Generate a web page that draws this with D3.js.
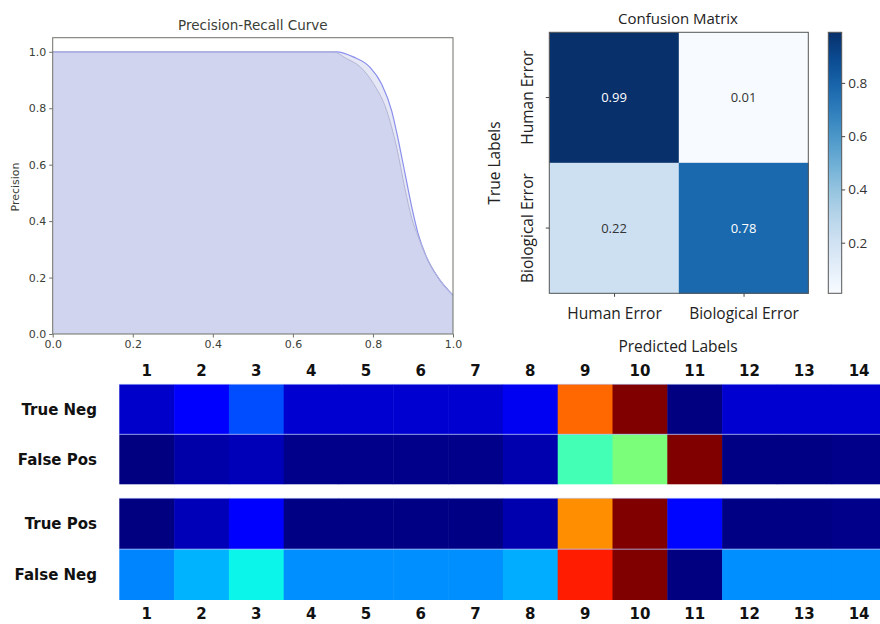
<!DOCTYPE html>
<html>
<head>
<meta charset="utf-8">
<script src="https://cdn.jsdelivr.net/npm/d3@7"></script>
<style>
  body { margin: 0; background: #fff; }
  svg { display: block; }
</style>
</head>
<body>
<svg id="chart" width="880" height="624"></svg>
<script>
// precision-recall, two runs
const recallA    = [0, 0.35, 0.709, 0.751, 0.793, 0.822, 0.847, 0.863, 0.880, 0.897, 0.913, 0.934, 0.963, 1.0]
const precisionA = [1, 1, 1, 0.982, 0.945, 0.885, 0.79, 0.69, 0.57, 0.45, 0.355, 0.272, 0.2, 0.138]
const recallB    = [0, 0.35, 0.70, 0.734, 0.768, 0.801, 0.834, 0.859, 0.880, 0.897, 0.913, 0.934, 0.963, 1.0]
const precisionB = [1, 1, 1, 0.976, 0.947, 0.888, 0.793, 0.663, 0.515, 0.41, 0.345, 0.272, 0.2, 0.138]
const prTicks = [0, 0.2, 0.4, 0.6, 0.8, 1.0]

// confusion matrix
const cmLabels = ["Human Error", "Biological Error"]
const cmRow0 = [0.99, 0.01]
const cmRow1 = [0.22, 0.78]
const cbTicks = [0.2, 0.4, 0.6, 0.8]

// per-class heatmap (jet colour scale, 0..1)
const hmColumns = ["1","2","3","4","5","6","7","8","9","10","11","12","13","14"]
const trueNeg  = [0.065, 0.115, 0.20, 0.07, 0.07, 0.07, 0.07, 0.10, 0.80, 1.0, 0.0, 0.07, 0.07, 0.07]
const falsePos = [0.0, 0.035, 0.05, 0.01, 0.01, 0.01, 0.01, 0.04, 0.43, 0.50, 1.0, 0.005, 0.005, 0.01]
const truePos  = [0.0, 0.05, 0.11, 0.005, 0.005, 0.005, 0.005, 0.04, 0.76, 1.0, 0.13, 0.005, 0.005, 0.01]
const falseNeg = [0.255, 0.30, 0.365, 0.265, 0.265, 0.265, 0.265, 0.295, 0.88, 1.0, 0.0, 0.265, 0.265, 0.265]
const topRows = ["True Neg", "False Pos"]
const bottomRows = ["True Pos", "False Neg"]

const svg = d3.select("#chart")
svg.append("rect").attr("width", 880).attr("height", 624).attr("fill", "#fff")

const mplFont = "DejaVu Sans, sans-serif"
const txt = "#3a4036"
const spine = "#6e7268"

//----- Precision-Recall curve -----
const px = d3.scaleLinear().domain([0, 1]).range([52.7, 453])
const py = d3.scaleLinear().domain([0, 1.05]).range([334, 37.7])

const pr = svg.append("g")

const area = d3.area()
    .curve(d3.curveMonotoneX)
    .x(d => px(d[0]))
    .y0(py(0))
    .y1(d => py(d[1]))
const line = d3.line()
    .curve(d3.curveMonotoneX)
    .x(d => px(d[0]))
    .y(d => py(d[1]))

const runA = recallA.map((r, i) => [r, precisionA[i]])
const runB = recallB.map((r, i) => [r, precisionB[i]])

pr.append("path").datum(runA).attr("d", area)
    .attr("fill", "#3a4cbb").attr("fill-opacity", 0.13)
pr.append("path").datum(runB).attr("d", area)
    .attr("fill", "#3a4cbb").attr("fill-opacity", 0.13)
pr.append("path").datum(runA).attr("d", line)
    .attr("fill", "none").attr("stroke", "#8a90ec").attr("stroke-width", 1.2)
pr.append("path").datum(runB).attr("d", line)
    .attr("fill", "none").attr("stroke", "#b4b6d6").attr("stroke-width", 1)

pr.append("rect")
    .attr("x", px(0)).attr("y", py(1.05))
    .attr("width", px(1) - px(0)).attr("height", py(0) - py(1.05))
    .attr("fill", "none").attr("stroke", spine).attr("stroke-width", 1)

pr.append("g")
    .attr("transform", `translate(0,${py(0)})`)
    .call(d3.axisBottom(px).tickValues(prTicks).tickFormat(d3.format(".1f")).tickSize(3.5).tickPadding(3))
    .call(g => g.select(".domain").remove())
    .call(g => g.selectAll("line").attr("stroke", spine))
    .call(g => g.selectAll("text").attr("fill", txt).attr("font-family", mplFont).attr("font-size", 11))

pr.append("g")
    .attr("transform", `translate(${px(0)},0)`)
    .call(d3.axisLeft(py).tickValues(prTicks).tickFormat(d3.format(".1f")).tickSize(3.5).tickPadding(3))
    .call(g => g.select(".domain").remove())
    .call(g => g.selectAll("line").attr("stroke", spine))
    .call(g => g.selectAll("text").attr("fill", txt).attr("font-family", mplFont).attr("font-size", 11))

pr.append("text")
    .attr("x", (px(0) + px(1)) / 2).attr("y", 29.5)
    .attr("text-anchor", "middle").attr("font-family", mplFont).attr("font-size", 13.5)
    .attr("fill", txt).text("Precision-Recall Curve")

pr.append("text")
    .attr("transform", `translate(19,187) rotate(-90)`)
    .attr("text-anchor", "middle").attr("font-family", mplFont).attr("font-size", 11)
    .attr("fill", txt).text("Precision")

//----- Confusion matrix -----
const cm = svg.append("g")
const cmFont = "Open Sans, DejaVu Sans, sans-serif"
const cmValues = [cmRow0, cmRow1]
const cx = d3.scaleBand().domain([0, 1]).range([549.3, 808.3])
const cy = d3.scaleBand().domain([0, 1]).range([32.3, 293.3])
const blues = d3.scaleSequential(d3.interpolateBlues).domain([0.01, 0.99])

cmValues.forEach((row, r) => {
  row.forEach((v, c) => {
    cm.append("rect")
        .attr("x", cx(c)).attr("y", cy(r))
        .attr("width", cx.bandwidth() + 0.5).attr("height", cy.bandwidth() + 0.5)
        .attr("fill", blues(v))
    cm.append("text")
        .attr("x", cx(c) + cx.bandwidth() / 2).attr("y", cy(r) + cy.bandwidth() / 2)
        .attr("dy", "0.35em").attr("text-anchor", "middle")
        .attr("font-family", cmFont).attr("font-size", 13)
        .attr("fill", v > 0.5 ? "#fff" : "#333").text(v.toFixed(2))
  })
})
cm.append("rect")
    .attr("x", 549.3).attr("y", 32.3).attr("width", 259).attr("height", 261)
    .attr("fill", "none").attr("stroke", "#555").attr("stroke-width", 1)

cm.append("g")
    .attr("transform", "translate(0,293.3)")
    .call(d3.axisBottom(d3.scaleOrdinal().domain(cmLabels).range([cx(0) + cx.bandwidth() / 2, cx(1) + cx.bandwidth() / 2]))
        .tickSize(3.5).tickPadding(8))
    .call(g => g.select(".domain").remove())
    .call(g => g.selectAll("line").attr("stroke", "#444"))
    .call(g => g.selectAll("text").attr("fill", "#222").attr("font-family", cmFont).attr("font-size", 15.5).attr("dy", "0.9em"))

const yPos = [cy(0) + cy.bandwidth() / 2, cy(1) + cy.bandwidth() / 2]
cmLabels.forEach((lab, i) => {
  cm.append("line")
      .attr("x1", 549.3).attr("x2", 545.8).attr("y1", yPos[i]).attr("y2", yPos[i])
      .attr("stroke", "#444")
  cm.append("text")
      .attr("transform", `translate(533,${yPos[i]}) rotate(-90)`)
      .attr("text-anchor", "middle").attr("font-family", cmFont).attr("font-size", 15.5)
      .attr("fill", "#222").text(lab)
})

cm.append("text")
    .attr("x", 678).attr("y", 24).attr("text-anchor", "middle")
    .attr("font-family", cmFont).attr("font-size", 15).attr("fill", "#222").text("Confusion Matrix")
cm.append("text")
    .attr("x", 678).attr("y", 352).attr("text-anchor", "middle")
    .attr("font-family", cmFont).attr("font-size", 15.5).attr("fill", "#222").text("Predicted Labels")
cm.append("text")
    .attr("transform", "translate(500,163) rotate(-90)")
    .attr("text-anchor", "middle").attr("font-family", cmFont).attr("font-size", 15.5)
    .attr("fill", "#222").text("True Labels")

// colour bar
const cbScale = d3.scaleLinear().domain([0.01, 0.99]).range([293.3, 32.3])
const defs = svg.append("defs")
const grad = defs.append("linearGradient").attr("id", "cbgrad")
    .attr("x1", 0).attr("y1", 1).attr("x2", 0).attr("y2", 0)
d3.range(0, 1.001, 0.1).forEach(t => {
  grad.append("stop").attr("offset", t).attr("stop-color", blues(0.01 + t * 0.98))
})
cm.append("rect")
    .attr("x", 828.3).attr("y", 32.3).attr("width", 13.4).attr("height", 261)
    .attr("fill", "url(#cbgrad)").attr("stroke", "#555").attr("stroke-width", 1)
cm.append("g")
    .attr("transform", "translate(841.7,0)")
    .call(d3.axisRight(cbScale).tickValues(cbTicks).tickFormat(d3.format(".1f")).tickSize(3.5).tickPadding(3))
    .call(g => g.select(".domain").remove())
    .call(g => g.selectAll("line").attr("stroke", "#444"))
    .call(g => g.selectAll("text").attr("fill", "#333").attr("font-family", cmFont).attr("font-size", 13.5))

//----- per-class heatmap -----
const jetR = d3.scaleLinear().domain([0, 0.35, 0.66, 0.89, 1]).range([0, 0, 1, 1, 0.5]).clamp(true)
const jetG = d3.scaleLinear().domain([0, 0.125, 0.375, 0.64, 0.91, 1]).range([0, 0, 1, 1, 0, 0]).clamp(true)
const jetB = d3.scaleLinear().domain([0, 0.11, 0.34, 0.65, 1]).range([0.5, 1, 1, 0, 0]).clamp(true)
const jet = v => d3.rgb(jetR(v) * 255, jetG(v) * 255, jetB(v) * 255)

const hx = d3.scaleBand().domain(hmColumns).range([119.3, 119.3 + 14 * 54.8])
const hmFont = "DejaVu Sans, sans-serif"

function block(rows, series, top, bottom) {
  const hy = d3.scaleBand().domain(rows).range([top, bottom])
  const g = svg.append("g")
  rows.forEach((row, r) => {
    series[r].forEach((v, c) => {
      g.append("rect")
          .attr("x", hx(hmColumns[c])).attr("y", hy(row))
          .attr("width", hx.bandwidth() + 0.5).attr("height", hy.bandwidth())
          .attr("fill", jet(v))
    })
    g.append("text")
        .attr("x", 97).attr("y", hy(row) + hy.bandwidth() / 2).attr("dy", "0.36em")
        .attr("text-anchor", "end").attr("font-family", hmFont).attr("font-weight", "bold")
        .attr("font-size", 15).attr("fill", "#111").text(row)
  })
  // thin light rule between the two rows and on top
  g.append("line")
      .attr("x1", 119.3).attr("x2", 880).attr("y1", hy(rows[1])).attr("y2", hy(rows[1]))
      .attr("stroke", "#a9bbff").attr("stroke-width", 1).attr("stroke-opacity", 0.75)
  g.append("line")
      .attr("x1", 119.3).attr("x2", 880).attr("y1", top).attr("y2", top)
      .attr("stroke", "#a9bbff").attr("stroke-width", 1).attr("stroke-opacity", 0.5)
}

block(topRows, [trueNeg, falsePos], 384.3, 484.3)
block(bottomRows, [truePos, falseNeg], 498.3, 600)

svg.append("g")
    .attr("transform", "translate(0,384)")
    .call(d3.axisTop(hx).tickSize(0).tickPadding(8))
    .call(g => g.select(".domain").remove())
    .call(g => g.selectAll("text").attr("fill", "#111").attr("font-family", hmFont)
        .attr("font-weight", "bold").attr("font-size", 15))

svg.append("g")
    .attr("transform", "translate(0,600)")
    .call(d3.axisBottom(hx).tickSize(0).tickPadding(8))
    .call(g => g.select(".domain").remove())
    .call(g => g.selectAll("text").attr("fill", "#111").attr("font-family", hmFont)
        .attr("font-weight", "bold").attr("font-size", 15))
</script>
</body>
</html>
